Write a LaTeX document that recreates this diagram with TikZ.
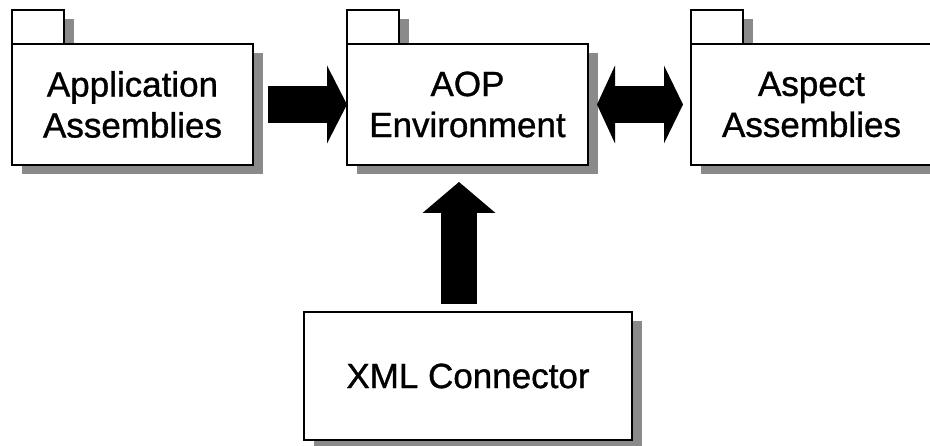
\documentclass[tikz,border=0pt]{standalone}
\usepackage{fontspec}
\setmainfont{Liberation Sans}
\newfontfamily\pkgfont[FakeBold=1]{Liberation Sans}
\usetikzlibrary{arrows.meta,shadows}
\definecolor{shadowgray}{RGB}{138,138,138}
\begin{document}
\begin{tikzpicture}[x=1pt,y=-1pt,
  pkg/.style={draw=black, line width=2pt, fill=white,
    drop shadow={shadow xshift=9.5pt, shadow yshift=-9.5pt, fill=shadowgray, opacity=1},
    inner sep=0pt, outer sep=0pt},
  pkgbox/.style={pkg, minimum width=241pt, minimum height=121pt, align=center,
    font=\pkgfont\fontsize{35}{41}\selectfont},
  pkgtab/.style={pkg, minimum width=52pt, minimum height=34pt, anchor=south west},
  blockarrow/.style={draw=black, line width=37pt}
]
\useasboundingbox (0,0) rectangle (930,446);
% tabs first so the main boxes cover the tab shadows
\node[pkgtab] (apptab) at (12,44) {};
\node[pkgtab] (aoptab) at (347,44) {};
\node[pkgtab] (asptab) at (691,44) {};
\node[pkgbox] (app) at (132.5,104.5) {Application\\Assemblies};
\node[pkgbox] (aop) at (467.5,104.5) {AOP\\Environment};
\node[pkgbox] (asp) at (811.5,104.5) {Aspect\\Assemblies};
\node[pkgbox, minimum width=328pt, minimum height=128pt] (xml) at (468,376) {XML Connector};
% connectors
\draw[blockarrow, -{Triangle[length=20pt,width=78pt,line width=0pt]}]
  ([xshift=15pt]app.east) -- (aop.west);
\draw[blockarrow, {Triangle[length=18pt,width=78pt,line width=0pt]}-{Triangle[length=19pt,width=78pt,line width=0pt]}]
  ([xshift=9pt]aop.east) -- ([xshift=-8pt]asp.west);
\draw[blockarrow, line width=36pt, -{Triangle[length=31pt,width=73pt,line width=0pt]}]
  ([xshift=-9pt,yshift=8pt]xml.north) -- ([xshift=-8.5pt,yshift=-17pt]aop.south);
\end{tikzpicture}
\end{document}
